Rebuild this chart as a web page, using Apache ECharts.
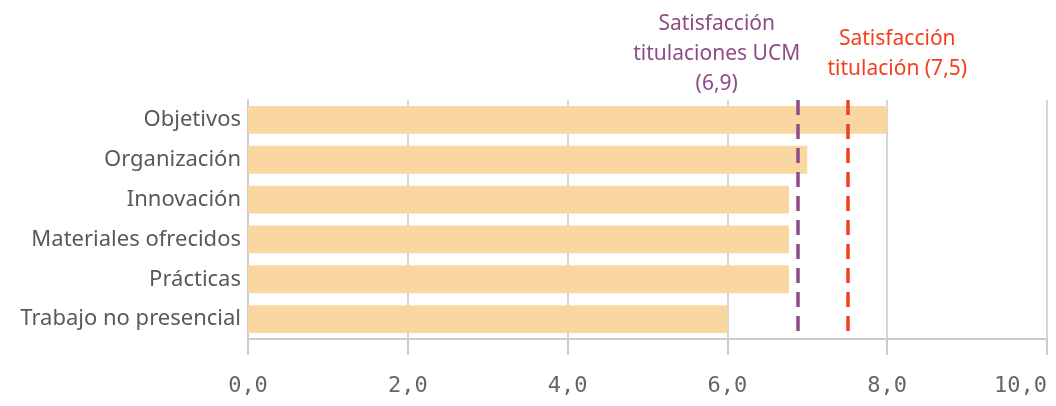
<!DOCTYPE html>
<html>
<head>
<meta charset="utf-8">
<script src="https://cdn.jsdelivr.net/npm/echarts@6/dist/echarts.min.js"></script>
<style>html,body{margin:0;padding:0;background:#fff;}#c{width:1056px;height:406px;}</style>
</head>
<body>
<div id="c"></div>
<script>
const categories = ["Objetivos", "Organización", "Innovación", "Materiales ofrecidos", "Prácticas", "Trabajo no presencial"];
const values = [8.0, 7.0, 6.77, 6.77, 6.77, 6.0];
const ucmValue = 6.88;
const titValue = 7.5;
const ucmLabel = "Satisfacción\ntitulaciones UCM";
const titLabel = "Satisfacción\ntitulación";
const xTicks = [0, 2, 4, 6, 8, 10];

const fmt = v => v.toFixed(1).replace('.', ',');
const labelFont = "'Noto Sans', sans-serif";

const chart = echarts.init(document.getElementById('c'), null, {renderer: 'canvas'});
chart.setOption({
  animation: false,
  grid: {left: 248, right: 9, top: 100, bottom: 67, containLabel: false, outerBoundsMode: 'none'},
  xAxis: {
    type: 'value', min: xTicks[0], max: xTicks[xTicks.length - 1], interval: 2,
    axisLine: {show: true, lineStyle: {color: '#cccccc', width: 2}},
    axisTick: {show: true, length: 16, lineStyle: {color: '#cccccc', width: 2}},
    axisLabel: {formatter: v => fmt(v), fontFamily: "'DejaVu Sans Mono', monospace", fontSize: 22, color: '#666666', margin: 36, alignMaxLabel: 'right'},
    splitLine: {show: true, lineStyle: {color: '#d6d6d6', width: 2}}
  },
  yAxis: {
    type: 'category', data: categories, inverse: true,
    axisLine: {show: true, lineStyle: {color: '#cccccc', width: 2}},
    axisTick: {show: false},
    axisLabel: {fontFamily: labelFont, fontSize: 22, color: '#595959', margin: 7}
  },
  series: [{
    type: 'bar', data: values, barWidth: '70%',
    itemStyle: {color: '#FAD6A0'},
    markLine: {
      symbol: 'none', silent: true,
      data: [
        {xAxis: ucmValue,
         lineStyle: {color: '#8E4B87', type: [15, 9], width: 3.5},
         label: {show: true, position: 'start', formatter: ucmLabel + '\n(' + fmt(ucmValue) + ')',
                 fontFamily: labelFont, fontSize: 21, lineHeight: 30, color: '#8E4B87', align: 'center', offset: [-81, 4]}},
        {xAxis: titValue,
         lineStyle: {color: '#F2401F', type: [15, 9], width: 3.5},
         label: {show: true, position: 'start', formatter: titLabel + ' (' + fmt(titValue) + ')',
                 fontFamily: labelFont, fontSize: 21, lineHeight: 30, color: '#F2401F', align: 'center', offset: [50, -11]}}
      ]
    }
  }]
});
</script>
</body>
</html>
